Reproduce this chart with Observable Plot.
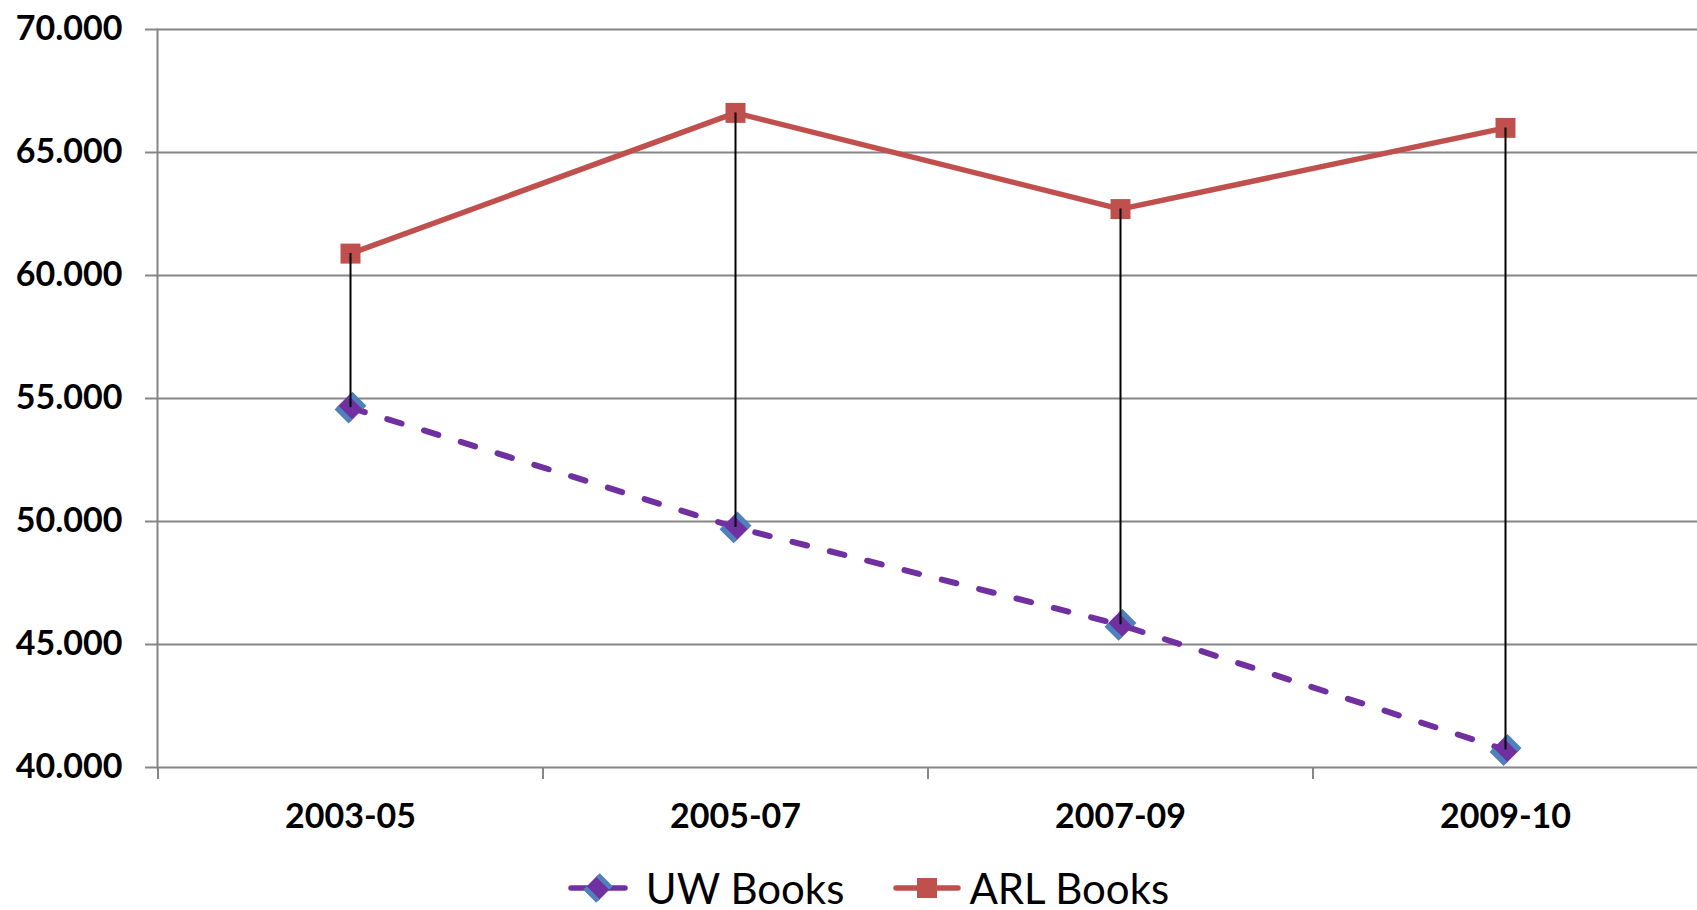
<!DOCTYPE html>
<html><head><meta charset="utf-8">
<script src="https://cdn.jsdelivr.net/npm/d3@7"></script>
<script src="https://cdn.jsdelivr.net/npm/@observablehq/plot@0.6"></script>
<style>
body{margin:0;background:#fff;font-family:Lato,sans-serif;width:1697px;height:910px;overflow:hidden}
#chart{height:850px}
#chart svg{display:block}
#legend{display:flex;justify-content:center;align-items:center;height:36px;margin-top:20px;padding-left:40px;font-size:42px;color:#000;box-sizing:border-box}
#legend .item{display:flex;align-items:center;height:36px}
#legend .item span{display:inline-block;height:36px;line-height:36px;overflow:visible}
#legend svg{display:block}
</style></head><body>
<div id="chart"></div>
<div id="legend"></div>
<script>
const periods = ["2003-05", "2005-07", "2007-09", "2009-10"];
const uwBooks = [54630, 49760, 45800, 40710];
const arlBooks = [60890, 66610, 62700, 66000];
const yTicks = [40000, 45000, 50000, 55000, 60000, 65000, 70000];
const seriesNames = ["UW Books", "ARL Books"];
const colors = {uw: "#7030A0", uwEdge: "#4F81BD", arl: "#C0504D", grid: "#868686"};

const rows = periods.map((p, i) => ({period: p, uw: uwBooks[i], arl: arlBooks[i]}));

const W = 1697, H = 850, mL = 157, mR = 0, mT = 29, mB = 83;
const step = (W - mL - mR) / periods.length;
const fmt = d3.formatLocale({decimal: ",", thousands: ".", grouping: [3], currency: ["", ""]}).format(",d");

const diamond = {draw(ctx, size) {const h = Math.sqrt(size / Math.PI); ctx.moveTo(0, -h); ctx.lineTo(h, 0); ctx.lineTo(0, h); ctx.lineTo(-h, 0); ctx.closePath();}};
const diamondEdges = {draw(ctx, size) {const h = Math.sqrt(size / Math.PI); ctx.moveTo(0, -h); ctx.lineTo(h, 0); ctx.moveTo(-h, 0); ctx.lineTo(0, h);}};
const square = {draw(ctx, size) {const h = Math.sqrt(size / Math.PI); ctx.rect(-h, -h, 2 * h, 2 * h);}};

const chart = Plot.plot({
  width: W, height: H, marginLeft: mL, marginRight: mR, marginTop: mT, marginBottom: mB,
  style: {fontFamily: "Lato, sans-serif", background: "#fff", color: "#000"},
  x: {type: "point", domain: periods, padding: 0.5, label: null},
  y: {domain: [40000, 70000], label: null},
  marks: [
    Plot.gridY(yTicks, {stroke: colors.grid, strokeOpacity: 1, strokeWidth: 2}),
    Plot.axisY(yTicks, {tickSize: 12, tickPadding: 23, stroke: colors.grid, strokeWidth: 2, fill: "#000", fontSize: 34, fontWeight: "bold", tickFormat: fmt, label: null}),
    Plot.frame({anchor: "left", stroke: colors.grid, strokeWidth: 2}),
    Plot.ruleX(periods, {x: d => d, y1: 40000, y2: 40000, insetBottom: -12, dx: -step / 2, stroke: colors.grid, strokeWidth: 2}),
    Plot.axisX({tickSize: 0, tickPadding: 36, fontSize: 34, fontWeight: "bold", fill: "#000", label: null}),
    Plot.line(rows, {x: "period", y: "arl", stroke: colors.arl, strokeWidth: 5.5}),
    Plot.line(rows, {x: "period", y: "uw", stroke: colors.uw, strokeWidth: 6, strokeDasharray: "15,23.5", strokeLinecap: "round"}),
    Plot.dot(rows, {x: "period", y: "arl", symbol: square, r: 10, fill: colors.arl}),
    Plot.dot(rows, {x: "period", y: "uw", symbol: diamond, r: 14, fill: colors.uw}),
    Plot.dot(rows, {x: "period", y: "uw", symbol: diamondEdges, r: 14, fill: "none", stroke: colors.uwEdge, strokeWidth: 5.5}),
    Plot.ruleX(rows, {x: "period", y1: "uw", y2: "arl", stroke: "#000", strokeWidth: 2})
  ]
});
document.getElementById("chart").appendChild(chart);

const legend = document.getElementById("legend");
const legendItems = [
  {name: seriesNames[0], key: "uw", w: 60, gap: 18},
  {name: seriesNames[1], key: "arl", w: 68, gap: 8}
];
legendItems.forEach((it, i) => {
  const div = document.createElement("div");
  div.className = "item";
  if (i > 0) div.style.marginLeft = "49px";
  const ns = "http://www.w3.org/2000/svg";
  const svg = document.createElementNS(ns, "svg");
  svg.setAttribute("width", it.w); svg.setAttribute("height", 34);
  const c = it.w / 2;
  const line = document.createElementNS(ns, "line");
  line.setAttribute("x1", 3); line.setAttribute("x2", it.w - 3); line.setAttribute("y1", 17); line.setAttribute("y2", 17);
  line.setAttribute("stroke", colors[it.key]); line.setAttribute("stroke-width", 5.5); line.setAttribute("stroke-linecap", "round");
  svg.appendChild(line);
  if (it.key === "uw") {
    const h = 13;
    const p = document.createElementNS(ns, "path");
    p.setAttribute("d", `M${c},${17 - h}L${c + h},17L${c},${17 + h}L${c - h},17Z`);
    p.setAttribute("fill", colors.uw); svg.appendChild(p);
    const e = document.createElementNS(ns, "path");
    e.setAttribute("d", `M${c},${17 - h}L${c + h},17M${c - h},17L${c},${17 + h}`);
    e.setAttribute("stroke", colors.uwEdge); e.setAttribute("stroke-width", 5); e.setAttribute("fill", "none");
    svg.appendChild(e);
  } else {
    const r = document.createElementNS(ns, "rect");
    r.setAttribute("x", c - 10); r.setAttribute("y", 7); r.setAttribute("width", 20); r.setAttribute("height", 20);
    r.setAttribute("fill", colors.arl); svg.appendChild(r);
  }
  div.appendChild(svg);
  const span = document.createElement("span");
  span.textContent = it.name;
  span.style.marginLeft = it.gap + "px";
  div.appendChild(span);
  legend.appendChild(div);
});
</script>
</body></html>
